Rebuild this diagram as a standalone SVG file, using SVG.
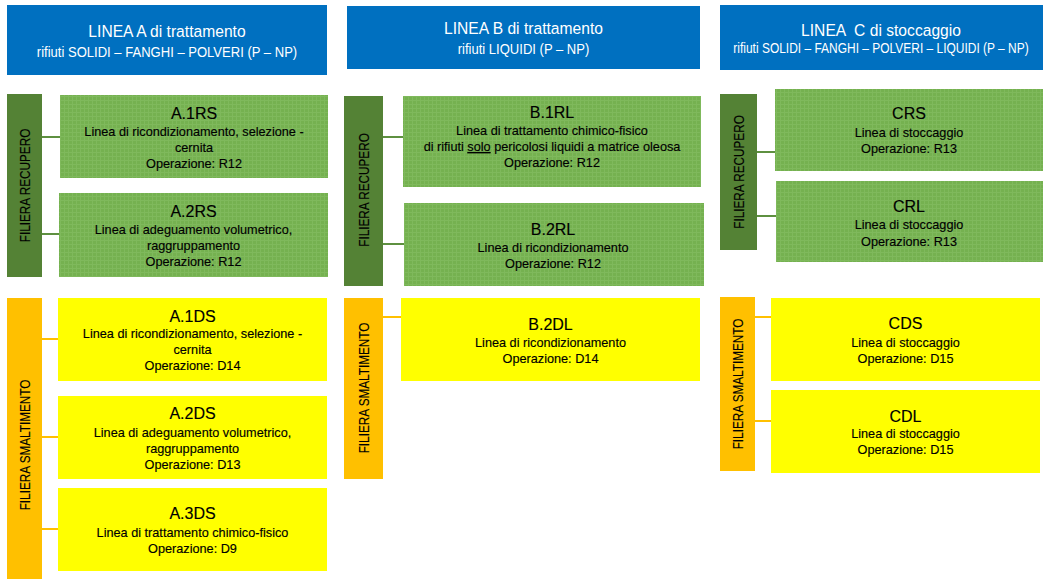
<svg xmlns="http://www.w3.org/2000/svg" width="1043" height="579" viewBox="0 0 1043 579">
  <defs>
    <pattern id="weave" width="4" height="4" patternUnits="userSpaceOnUse">
      <rect width="4" height="4" fill="#75B150"/>
      <rect x="0" y="0" width="4" height="1" fill="#7FB95C"/>
      <rect x="0" y="0" width="1" height="4" fill="#7FB95C"/>
    </pattern>
  </defs>
  <style>
    text { font-family: "Liberation Sans", Arial, sans-serif; text-anchor: middle; }
    .hdr { fill: #0070C0; }
    .h1 { font-size: 17px; fill: #FFFFFF; }
    .h2 { font-size: 15px; fill: #FFFFFF; }
    .h2s { font-size: 14px; fill: #FFFFFF; }
    .gbar { fill: #548235; }
    .ybar { fill: #FFC000; }
    .gbox { fill: url(#weave); }
    .ybox { fill: #FFFF00; }
    .t { font-size: 16px; fill: #000000; stroke: #000000; stroke-width: 0.15px; }
    .b { font-size: 12.7px; fill: #000000; stroke: #000000; stroke-width: 0.15px; }
    .v { font-size: 14px; fill: #000000; stroke: #000000; stroke-width: 0.15px; }
    .gc { stroke: #5E9040; stroke-width: 2; fill: none; }
    .yc { stroke: #FFC000; stroke-width: 2; fill: none; }
  </style>

  <!-- column headers -->
  <g id="header-a">
    <rect class="hdr" x="7" y="5" width="320" height="70"/>
    <text class="h1" transform="translate(167,37) scale(0.92,1)">LINEA A di trattamento</text>
    <text class="h2" transform="translate(167,57) scale(0.87,1)">rifiuti SOLIDI – FANGHI – POLVERI (P – NP)</text>
  </g>
  <g id="header-b">
    <rect class="hdr" x="347" y="6" width="353" height="63"/>
    <text class="h1" transform="translate(523.5,34) scale(0.92,1)">LINEA B di trattamento</text>
    <text class="h2" transform="translate(523.5,54) scale(0.87,1)">rifiuti LIQUIDI (P – NP)</text>
  </g>
  <g id="header-c">
    <rect class="hdr" x="720" y="5" width="323" height="65"/>
    <text class="h1" transform="translate(881,36) scale(0.92,1)" xml:space="preserve">LINEA  C di stoccaggio</text>
    <text class="h2s" transform="translate(881,53) scale(0.855,1)">rifiuti SOLIDI – FANGHI – POLVERI – LIQUIDI (P – NP)</text>
  </g>

  <!-- connectors between stream bars and lines -->
  <g id="connectors">
    <line class="gc" x1="42" y1="137" x2="60" y2="137"/>
    <line class="gc" x1="42" y1="234" x2="59" y2="234"/>
    <line class="yc" x1="42" y1="339" x2="58" y2="339"/>
    <line class="yc" x1="42" y1="437" x2="58" y2="437"/>
    <line class="yc" x1="42" y1="529" x2="58" y2="529"/>
    <line class="gc" x1="383" y1="137" x2="403" y2="137"/>
    <line class="gc" x1="383" y1="244" x2="404" y2="244"/>
    <line class="yc" x1="383" y1="317" x2="401" y2="317"/>
    <line class="gc" x1="757" y1="152" x2="775" y2="152"/>
    <line class="gc" x1="757" y1="216" x2="776" y2="216"/>
    <line class="yc" x1="755" y1="317" x2="771" y2="317"/>
    <line class="yc" x1="755" y1="421" x2="771" y2="421"/>
  </g>

  <!-- stream bars -->
  <g id="a-recupero">
    <rect class="gbar" x="7" y="94" width="35" height="183"/>
    <text class="v" transform="translate(29.8,185.5) rotate(-90) scale(0.84,1)">FILIERA RECUPERO</text>
  </g>
  <g id="a-smaltimento">
    <rect class="ybar" x="7" y="298" width="35" height="281"/>
    <text class="v" transform="translate(29.5,445) rotate(-90) scale(0.84,1)">FILIERA SMALTIMENTO</text>
  </g>
  <g id="b-recupero">
    <rect class="gbar" x="344" y="96" width="39" height="190"/>
    <text class="v" transform="translate(369,190) rotate(-90) scale(0.84,1)">FILIERA RECUPERO</text>
  </g>
  <g id="b-smaltimento">
    <rect class="ybar" x="344" y="298" width="39" height="181"/>
    <text class="v" transform="translate(369,388) rotate(-90) scale(0.84,1)">FILIERA SMALTIMENTO</text>
  </g>
  <g id="c-recupero">
    <rect class="gbar" x="720" y="94" width="37" height="156"/>
    <text class="v" transform="translate(743.5,172) rotate(-90) scale(0.84,1)">FILIERA RECUPERO</text>
  </g>
  <g id="c-smaltimento">
    <rect class="ybar" x="720" y="297" width="35" height="174"/>
    <text class="v" transform="translate(743,384) rotate(-90) scale(0.84,1)">FILIERA SMALTIMENTO</text>
  </g>

  <!-- line A -->
  <g id="A.1RS">
    <rect class="gbox" x="60" y="95" width="268" height="83"/>
    <text class="t" x="194" y="118.5">A.1RS</text>
    <text class="b" x="194" y="136">Linea di ricondizionamento, selezione -</text>
    <text class="b" x="194" y="152">cernita</text>
    <text class="b" x="194" y="168">Operazione: R12</text>
  </g>
  <g id="A.2RS">
    <rect class="gbox" x="59" y="193" width="269" height="84"/>
    <text class="t" x="193.5" y="216.5">A.2RS</text>
    <text class="b" x="193.5" y="234">Linea di adeguamento volumetrico,</text>
    <text class="b" x="193.5" y="250">raggruppamento</text>
    <text class="b" x="193.5" y="266">Operazione: R12</text>
  </g>
  <g id="A.1DS">
    <rect class="ybox" x="58" y="298" width="269" height="83"/>
    <text class="t" x="192.5" y="321.5">A.1DS</text>
    <text class="b" x="192.5" y="338">Linea di ricondizionamento, selezione -</text>
    <text class="b" x="192.5" y="354">cernita</text>
    <text class="b" x="192.5" y="370">Operazione: D14</text>
  </g>
  <g id="A.2DS">
    <rect class="ybox" x="58" y="396" width="269" height="83"/>
    <text class="t" x="192.5" y="419">A.2DS</text>
    <text class="b" x="192.5" y="437">Linea di adeguamento volumetrico,</text>
    <text class="b" x="192.5" y="453">raggruppamento</text>
    <text class="b" x="192.5" y="469">Operazione: D13</text>
  </g>
  <g id="A.3DS">
    <rect class="ybox" x="58" y="488" width="269" height="83"/>
    <text class="t" x="192.5" y="519">A.3DS</text>
    <text class="b" x="192.5" y="537">Linea di trattamento chimico-fisico</text>
    <text class="b" x="192.5" y="553">Operazione: D9</text>
  </g>

  <!-- line B -->
  <g id="B.1RL">
    <rect class="gbox" x="403" y="96" width="298" height="91"/>
    <text class="t" x="552" y="117.5">B.1RL</text>
    <text class="b" x="552" y="135">Linea di trattamento chimico-fisico</text>
    <text class="b" x="552" y="151">di rifiuti <tspan text-decoration="underline">solo</tspan> pericolosi liquidi a matrice oleosa</text>
    <text class="b" x="552" y="167">Operazione: R12</text>
  </g>
  <g id="B.2RL">
    <rect class="gbox" x="404" y="203" width="300" height="83"/>
    <text class="t" x="553" y="235">B.2RL</text>
    <text class="b" x="553" y="252">Linea di ricondizionamento</text>
    <text class="b" x="553" y="268">Operazione: R12</text>
  </g>
  <g id="B.2DL">
    <rect class="ybox" x="401" y="298" width="299" height="83"/>
    <text class="t" x="550.5" y="330">B.2DL</text>
    <text class="b" x="550.5" y="347">Linea di ricondizionamento</text>
    <text class="b" x="550.5" y="363">Operazione: D14</text>
  </g>

  <!-- line C -->
  <g id="CRS">
    <rect class="gbox" x="775" y="89" width="268" height="82"/>
    <text class="t" x="909" y="119">CRS</text>
    <text class="b" x="909" y="137">Linea di stoccaggio</text>
    <text class="b" x="909" y="153">Operazione: R13</text>
  </g>
  <g id="CRL">
    <rect class="gbox" x="776" y="181" width="267" height="81"/>
    <text class="t" x="909" y="211.5">CRL</text>
    <text class="b" x="909" y="229">Linea di stoccaggio</text>
    <text class="b" x="909" y="246">Operazione: R13</text>
  </g>
  <g id="CDS">
    <rect class="ybox" x="771" y="298" width="269" height="83"/>
    <text class="t" x="905.5" y="329">CDS</text>
    <text class="b" x="905.5" y="347">Linea di stoccaggio</text>
    <text class="b" x="905.5" y="363">Operazione: D15</text>
  </g>
  <g id="CDL">
    <rect class="ybox" x="771" y="390" width="269" height="83"/>
    <text class="t" x="905.5" y="421.5">CDL</text>
    <text class="b" x="905.5" y="438">Linea di stoccaggio</text>
    <text class="b" x="905.5" y="454">Operazione: D15</text>
  </g>
</svg>
